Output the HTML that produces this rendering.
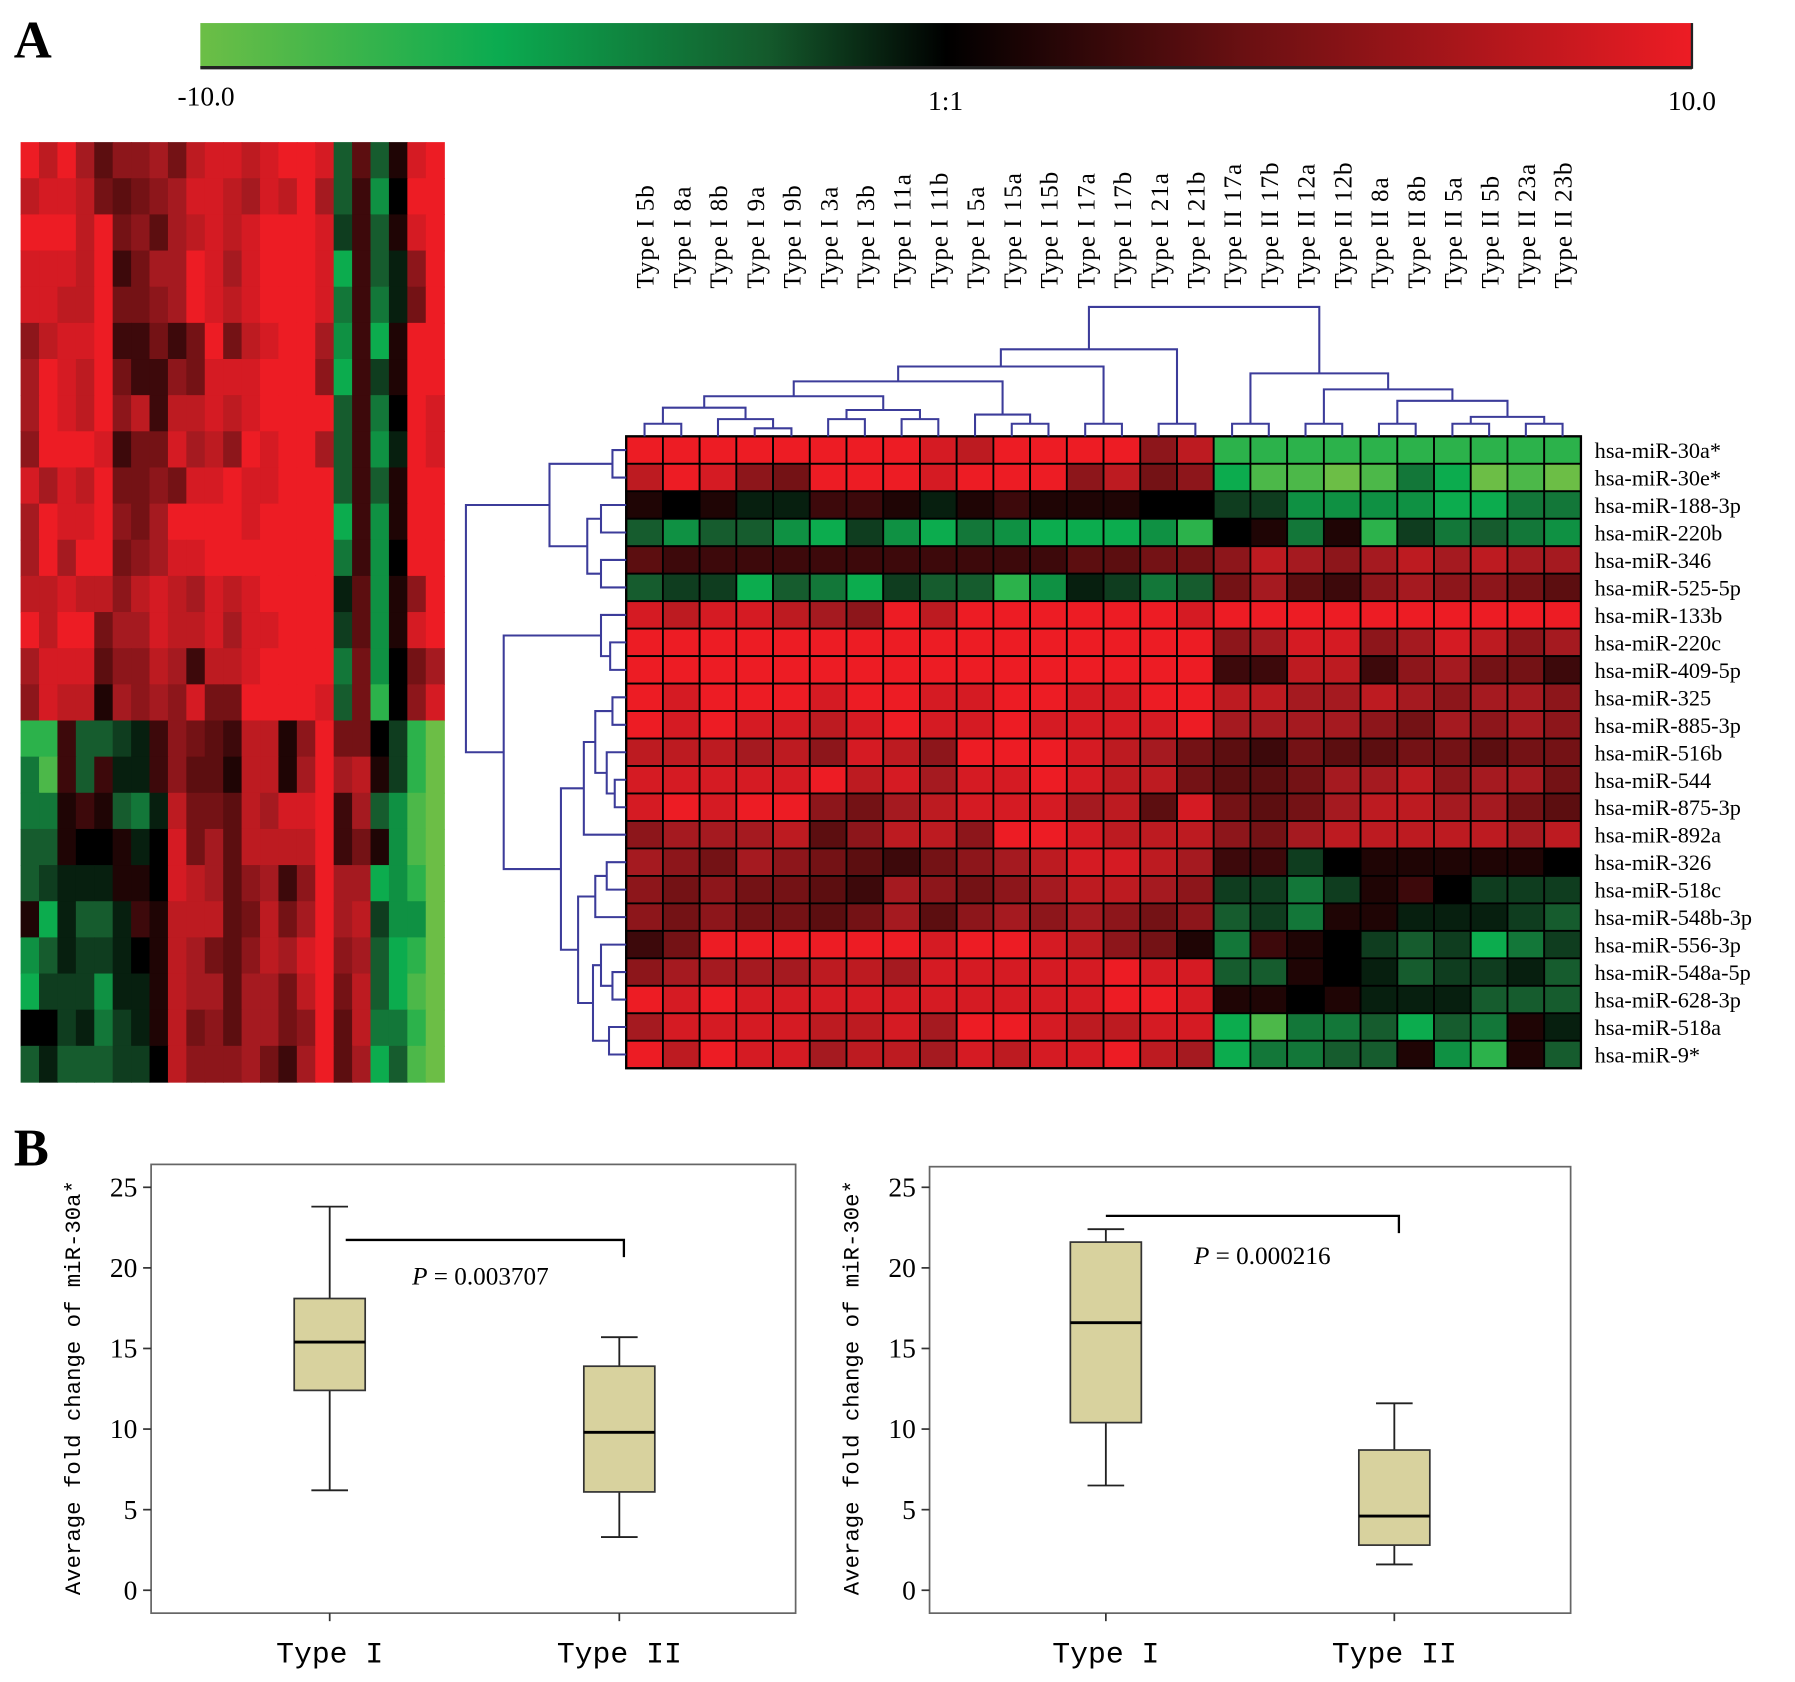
<!DOCTYPE html>
<html><head><meta charset="utf-8"><style>
html,body{margin:0;padding:0;background:#fff;}
svg{display:block;}
text{font-family:"Liberation Serif",serif;}
text.mono{font-family:"Liberation Mono",monospace;}
</style></head><body>
<svg id="fig" width="1795" height="1682" viewBox="0 0 1568 1469" xmlns="http://www.w3.org/2000/svg">
<defs>
<linearGradient id="cbar" x1="0" x2="1" y1="0" y2="0">
<stop offset="0" stop-color="#6cbe46"/><stop offset="0.2" stop-color="#0bab50"/><stop offset="0.38" stop-color="#145a2c"/><stop offset="0.5" stop-color="#000"/><stop offset="0.7" stop-color="#6a1012"/><stop offset="1" stop-color="#ed1c24"/>
</linearGradient>
</defs>
<text x="12" y="50" font-size="46" font-weight="bold">A</text>
<rect x="175" y="20" width="1303" height="39" fill="url(#cbar)"/>
<line x1="175" y1="59" x2="1478" y2="59" stroke="#222" stroke-width="3"/>
<line x1="1478" y1="20" x2="1478" y2="60" stroke="#222" stroke-width="2"/>
<text x="180" y="92" font-size="24" text-anchor="middle">-10.0</text>
<text x="826" y="96" font-size="24" text-anchor="middle">1:1</text>
<text x="1478" y="96" font-size="24" text-anchor="middle">10.0</text>
<g id="thumb"></g><g id="heat"></g><g id="dendro"></g><g id="labels"></g>
<text x="12" y="1018" font-size="46" font-weight="bold">B</text>
<g id="box1"></g><g id="box2"></g>
</svg>
<script>
// ---- data ----
const rowLabels=["hsa-miR-30a*","hsa-miR-30e*","hsa-miR-188-3p","hsa-miR-220b","hsa-miR-346","hsa-miR-525-5p","hsa-miR-133b","hsa-miR-220c","hsa-miR-409-5p","hsa-miR-325","hsa-miR-885-3p","hsa-miR-516b","hsa-miR-544","hsa-miR-875-3p","hsa-miR-892a","hsa-miR-326","hsa-miR-518c","hsa-miR-548b-3p","hsa-miR-556-3p","hsa-miR-548a-5p","hsa-miR-628-3p","hsa-miR-518a","hsa-miR-9*"];
const colLabels=["Type I 5b","Type I 8a","Type I 8b","Type I 9a","Type I 9b","Type I 3a","Type I 3b","Type I 11a","Type I 11b","Type I 5a","Type I 15a","Type I 15b","Type I 17a","Type I 17b","Type I 21a","Type I 21b","Type II 17a","Type II 17b","Type II 12a","Type II 12b","Type II 8a","Type II 8b","Type II 5a","Type II 5b","Type II 23a","Type II 23b"];
const heatValues=[
[9,9,9,9,9,9,9,9,8,7,9,9,9,9,5,7,-7,-7,-7,-7,-7,-7,-7,-7,-7,-7],
[7,9,8,5,4,9,9,9,8,9,9,9,5,7,4,5,-6,-8,-8,-9,-8,-4,-6,-9,-8,-9],
[1,0,1,-1,-1,2,2,1,-1,1,2,1,1,1,0,0,-2,-2,-5,-5,-5,-5,-6,-6,-4,-4],
[-3,-5,-3,-3,-5,-6,-2,-5,-6,-4,-5,-6,-6,-6,-5,-7,0,1,-4,1,-7,-2,-4,-3,-4,-5],
[3,2,2,2,2,2,2,2,2,2,2,2,3,3,4,4,5,7,6,5,6,7,6,7,6,6],
[-3,-2,-2,-6,-3,-4,-6,-2,-3,-3,-7,-5,-1,-2,-4,-3,4,6,3,2,5,6,5,5,4,3],
[8,7,8,8,7,6,5,9,7,9,9,9,9,9,9,8,9,9,9,9,9,9,9,9,9,9],
[9,9,9,9,9,9,9,9,9,9,9,9,9,9,9,9,5,6,8,8,5,6,8,7,5,6],
[9,9,9,9,9,9,9,9,9,9,9,9,9,9,9,9,2,2,7,7,2,5,6,4,4,2],
[9,8,9,9,9,8,9,9,8,8,9,9,8,8,9,9,7,7,6,6,7,6,5,6,6,5],
[9,8,9,8,8,7,8,9,8,8,9,8,8,8,8,9,6,6,6,6,5,4,6,5,6,5],
[7,7,7,6,7,5,8,7,5,9,9,9,8,7,6,4,3,2,4,3,3,4,4,3,4,4],
[8,8,8,8,8,9,7,8,6,8,8,9,8,7,7,4,3,3,4,6,6,7,5,6,6,4],
[8,9,8,9,9,5,4,6,7,8,8,8,6,7,3,8,4,3,4,6,7,7,6,6,4,3],
[5,6,6,6,7,3,5,7,7,5,9,9,8,7,7,7,5,4,6,7,7,7,7,7,6,7],
[6,5,4,6,5,4,3,2,4,5,6,7,8,8,7,6,2,2,-2,0,1,1,1,1,1,0],
[5,4,5,4,4,3,2,6,5,4,5,6,7,7,6,5,-2,-2,-4,-2,1,2,0,-2,-2,-2],
[5,4,5,4,4,3,4,6,3,5,6,5,6,5,4,5,-3,-2,-4,1,1,-1,-1,-1,-2,-3],
[2,4,9,9,9,9,9,9,8,9,9,8,7,5,4,1,-4,2,1,0,-2,-3,-2,-6,-4,-2],
[5,6,6,6,6,7,7,6,8,8,8,8,8,9,8,8,-3,-3,1,0,-1,-3,-2,-2,-1,-3],
[9,8,9,8,8,8,8,8,8,8,8,8,8,9,9,8,1,1,0,1,-1,-1,-1,-3,-3,-3],
[6,8,8,8,8,7,7,8,6,9,9,8,7,7,8,8,-6,-8,-4,-4,-3,-6,-3,-4,1,-1],
[9,7,9,8,8,6,7,7,6,8,7,8,8,9,7,6,-6,-4,-4,-3,-3,1,-5,-7,1,-3]];
const thumbValues=[
[9,7,9,6,3,5,5,6,4,7,8,8,7,8,9,9,8,-3,3,-3,1,8,9],
[7,8,8,7,4,3,4,5,6,8,8,7,6,8,7,9,6,-3,2,-5,0,9,9],
[9,9,9,7,9,4,5,3,6,7,8,7,8,9,9,9,8,-2,2,-3,1,8,9],
[8,8,8,7,9,2,4,6,6,9,8,6,8,9,9,9,8,-6,2,-3,-1,5,9],
[8,8,7,7,9,4,4,5,6,9,8,7,8,9,9,9,8,-4,2,-4,-1,4,9],
[5,7,8,8,9,2,2,4,2,4,9,4,7,8,9,9,6,-5,2,-6,1,9,9],
[6,9,8,7,9,4,2,2,5,4,8,8,8,9,9,9,5,-6,2,-2,1,9,9],
[6,9,8,7,9,5,7,2,7,7,8,7,8,9,9,9,9,-3,2,-4,0,9,8],
[5,9,9,9,8,2,4,4,8,6,7,5,9,8,9,9,6,-3,2,-5,-1,9,8],
[8,6,8,7,9,4,4,5,4,8,8,9,8,8,9,9,9,-3,2,-3,1,9,9],
[6,9,8,8,9,5,4,6,9,9,9,9,8,9,9,9,9,-6,2,-5,1,9,9],
[6,9,6,9,9,4,5,6,8,8,9,9,9,9,9,9,9,-4,2,-5,0,9,9],
[7,7,8,7,7,5,7,8,7,6,8,7,8,9,9,9,9,-1,3,-5,1,5,9],
[9,7,9,9,4,6,6,8,7,7,8,6,8,8,9,9,9,-2,3,-5,1,8,9],
[6,8,8,8,3,5,5,7,6,2,7,7,8,9,9,9,9,-4,4,-5,0,4,6],
[5,8,7,7,1,6,5,6,5,8,4,4,9,9,9,9,8,-3,4,-7,0,5,8],
[-7,-7,2,-3,-3,-2,-1,2,5,4,3,2,7,7,1,5,9,4,4,0,-2,-7,-9],
[-4,-8,2,-3,2,-1,-1,2,5,3,3,1,7,7,1,6,9,6,7,1,-2,-7,-9],
[-4,-4,1,2,1,-3,-4,-1,7,4,4,3,7,6,8,8,9,2,6,-3,-5,-8,-9],
[-3,-3,1,0,0,1,-1,0,8,4,6,3,7,7,7,7,9,2,4,1,-5,-8,-9],
[-3,-2,-1,-1,-1,1,1,0,8,7,6,3,5,6,2,5,9,6,6,-6,-5,-7,-9],
[1,-6,-1,-3,-3,-1,2,1,7,7,7,3,4,7,4,6,9,6,7,-2,-5,-5,-9],
[-5,-3,-1,-2,-2,-1,0,1,7,6,4,3,5,7,6,8,9,5,6,-3,-6,-7,-9],
[-6,-2,-2,-2,-5,-1,-1,1,7,6,6,3,6,6,4,7,9,4,7,-3,-6,-8,-9],
[0,0,-2,-1,-4,-2,-1,1,7,4,5,3,6,6,4,5,9,3,7,-4,-4,-7,-9],
[-3,-1,-3,-3,-3,-2,-2,0,7,5,5,5,6,4,2,6,9,3,6,-6,-3,-8,-9]];
const colMerges=[[0,1,370],[3,4,374],[2,27,366],[26,28,356],[5,6,366],[7,8,366],[30,31,358],[29,32,346],[10,11,370],[9,34,362],[33,35,333],[12,13,370],[36,37,320],[14,15,370],[38,39,305],
[16,17,370],[18,19,370],[20,21,370],[22,23,370],[24,25,370],[44,45,364],[43,46,350],[42,47,340],[41,48,326],[40,49,268]];
const rowMerges=[[0,1,535],[2,3,525],[4,5,525],[24,25,513],[23,26,480],[7,8,533],[6,28,525],[9,10,535],[12,13,537],[11,31,530],[30,32,520],[33,14,510],[15,16,530],[35,17,520],[19,20,535],[18,37,525],[21,22,532],[38,39,518],[36,40,505],[34,41,490],[29,42,440],[27,43,407]];
const box1Stats={lo:[6.2,3.3],q1:[12.4,6.1],med:[15.4,9.8],q3:[18.1,13.9],hi:[23.8,15.7]};
const box2Stats={lo:[6.5,1.6],q1:[10.4,2.8],med:[16.6,4.6],q3:[21.6,8.7],hi:[22.4,11.6]};
const boxCats=["Type I","Type II"];
const yTicks=[0,5,10,15,20,25];
const pValues=["0.003707","0.000216"];
// ---- helpers ----
const NS="http://www.w3.org/2000/svg";
function mk(tag,attrs,parent){const e=document.createElementNS(NS,tag);for(const k in attrs)e.setAttribute(k,attrs[k]);parent.appendChild(e);return e;}
const stops=[[-9,[108,190,70]],[-6,[12,172,78]],[-3,[22,92,46]],[0,[0,0,0]],[3,[92,14,16]],[6,[165,26,32]],[9,[237,28,36]]];
function color(v){v=Math.max(-9,Math.min(9,v));for(let i=0;i<stops.length-1;i++){const a=stops[i],b=stops[i+1];if(v<=b[0]){const t=(v-a[0])/(b[0]-a[0]);const c=a[1].map((x,j)=>Math.round(x+(b[1][j]-x)*t));return `rgb(${c})`;}}return "rgb(237,28,36)";}
const thumb=document.getElementById('thumb');
const tx0=18,tx1=388,ty0=124,ty1=945;
const tcw=(tx1-tx0)/thumbValues[0].length, tch=(ty1-ty0)/thumbValues.length;
thumbValues.forEach((row,r)=>row.forEach((v,c)=>{
const e=mk('rect',{x:tx0+c*tcw,y:ty0+r*tch,width:tcw+0.6,height:tch+0.6,fill:color(v)},thumb);


}));
const heat=document.getElementById('heat');
const hx0=547,hx1=1381,hy0=381,hy1=933;
const cw=(hx1-hx0)/colLabels.length, ch=(hy1-hy0)/rowLabels.length;
const colX=i=>hx0+cw*(i+0.5), rowY=j=>hy0+ch*(j+0.5);
heatValues.forEach((row,r)=>row.forEach((v,c)=>{
const e=mk('rect',{x:hx0+c*cw,y:hy0+r*ch,width:cw,height:ch,fill:color(v),stroke:"#000","stroke-width":1.6},heat);


}));
mk('rect',{x:hx0,y:hy0,width:hx1-hx0,height:hy1-hy0,fill:"none",stroke:"#000","stroke-width":2},heat);
const lab=document.getElementById('labels');
rowLabels.forEach((s,j)=>{const t=mk('text',{x:1393,y:rowY(j)+7,"font-size":19.5},lab);t.textContent=s;

});
colLabels.forEach((s,i)=>{const x=colX(i)+8,y=252;const t=mk('text',{x:x,y:y,"font-size":22,"letter-spacing":"0.8",transform:`rotate(-90 ${x} ${y})`},lab);t.textContent=s;

});
const dg=document.getElementById('dendro');
const st={stroke:"#3c3c9a","stroke-width":1.8,fill:"none"};
const nx=[],ny=[];
colLabels.forEach((s,i)=>{nx.push(colX(i));ny.push(hy0);});
colMerges.forEach(m=>{const [a,b,h]=m;const p=mk('path',Object.assign({d:`M${nx[a]},${ny[a]}V${h}H${nx[b]}V${ny[b]}`},st),dg);


nx.push((nx[a]+nx[b])/2);ny.push(h);});
const rx=[],ry=[];
rowLabels.forEach((s,j)=>{rx.push(hx0);ry.push(rowY(j));});
rowMerges.forEach(m=>{const [a,b,h]=m;const p=mk('path',Object.assign({d:`M${rx[a]},${ry[a]}H${h}V${ry[b]}H${rx[b]}`},st),dg);


ry.push((ry[a]+ry[b])/2);rx.push(h);});
function boxPlot(gid,stats,fx0,fx1,fy0,title,pv,brY,pX,pY,centers){
const g=document.getElementById(gid);
const y=v=>1389-v*14.08;
const fr=mk('rect',{x:fx0,y:fy0,width:fx1-fx0,height:1409-fy0,fill:"none",stroke:"#666","stroke-width":1.5},g);


yTicks.forEach(t=>{mk('line',{x1:fx0-7,x2:fx0,y1:y(t),y2:y(t),stroke:"#333","stroke-width":1.5},g);
const tt=mk('text',{x:fx0-12,y:y(t)+8,"font-size":24,"text-anchor":"end"},g);tt.textContent=t;

});
const yt=mk('text',{class:"mono",x:fx0-62,y:1212,"font-size":19.5,"text-anchor":"middle",transform:`rotate(-90 ${fx0-62} 1212)`},g);yt.textContent=title;


centers.forEach((cx,i)=>{
mk('line',{x1:cx,x2:cx,y1:1409,y2:1416,stroke:"#333","stroke-width":1.5},g);
mk('line',{x1:cx,x2:cx,y1:y(stats.lo[i]),y2:y(stats.hi[i]),stroke:"#222","stroke-width":1.6},g);
mk('line',{x1:cx-16,x2:cx+16,y1:y(stats.lo[i]),y2:y(stats.lo[i]),stroke:"#222","stroke-width":1.6},g);
mk('line',{x1:cx-16,x2:cx+16,y1:y(stats.hi[i]),y2:y(stats.hi[i]),stroke:"#222","stroke-width":1.6},g);
const b=mk('rect',{x:cx-31,y:y(stats.q3[i]),width:62,height:y(stats.q1[i])-y(stats.q3[i]),fill:"#d8d29e",stroke:"#333","stroke-width":1.5},g);


mk('line',{x1:cx-31,x2:cx+31,y1:y(stats.med[i]),y2:y(stats.med[i]),stroke:"#000","stroke-width":2.5},g);
const xl=mk('text',{class:"mono",x:cx,y:1452,"font-size":26,"text-anchor":"middle","xml:space":"preserve"},g);xl.textContent=boxCats[i].replace(' ','  ');


});
const br=mk('path',{d:`M${centers[0]+(gid==='box1'?14:0)},${brY}H${centers[1]+4}V${brY+15}`,stroke:"#000","stroke-width":2,fill:"none"},g);


const pt=mk('text',{x:pX,y:pY,"font-size":22},g);
pt.innerHTML='<tspan font-style="italic">P</tspan> = '+pv;


}
boxPlot('box1',box1Stats,132,695,1017,"Average fold change of miR-30a*",pValues[0],1083,360,1122,[288,541]);
boxPlot('box2',box2Stats,812,1372,1019,"Average fold change of miR-30e*",pValues[1],1062,1043,1104,[966,1218]);
</script>
</body></html>
